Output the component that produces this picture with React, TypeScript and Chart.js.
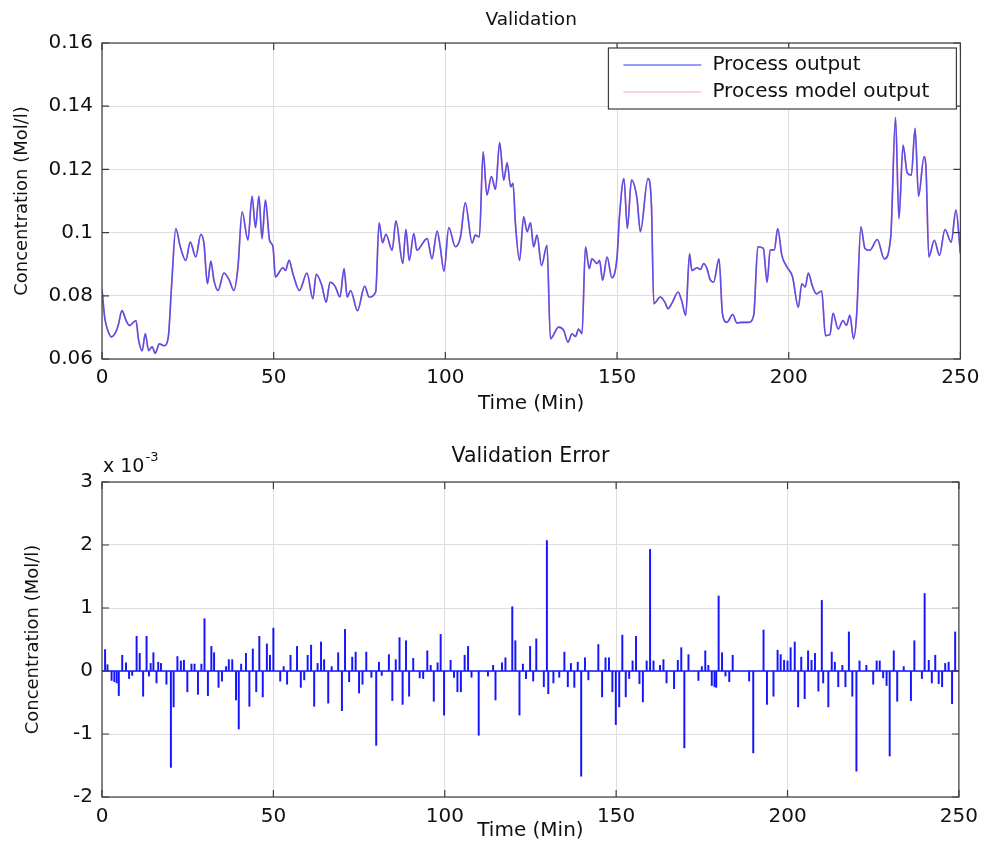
import React, { useEffect, useRef } from "react";
import { Chart, registerables } from "chart.js";

Chart.register(...registerables);

// ---------------- data ----------------
const processTime = [
  0, 0.8, 1.7, 2.7, 4.2, 4.8, 5.8, 7, 8, 9.9, 10.6, 11.7, 12.6, 13.6, 14.6, 15.5, 16.7, 18.1, 19.3, 20.3,
  21.5, 22.8, 24.4, 25.7, 27.3, 28.8, 29.7, 30.7, 31.7, 32.6, 33.8, 35.5, 37, 38.4, 39.6, 40.8, 42.5, 43.7,
  44.7, 45.7, 46.6, 47.6, 48.8, 49.8, 50.5, 52.7, 53.4, 54.5, 55.6, 57.5, 59.7, 61.4, 62.4, 64, 65.3, 66.4,
  67.9, 69.3, 70.5, 71.4, 72.4, 74.4, 76.5, 77.8, 79.7, 80.7, 81.7, 82.7, 84.5, 85.6, 87.6, 88.5, 89.5,
  90.8, 91.7, 94.7, 96.1, 97.6, 98.5, 99.6, 101, 102.9, 104.4, 105.8, 107.8, 108.7, 109.9, 111, 112.1,
  113.4, 114.6, 115.8, 117, 118, 119, 119.7, 120.4, 121.6, 122.8, 123.8, 124.8, 125.7, 126.7, 128, 129.6,
  130.6, 133, 134.5, 135.7, 136.9, 137.9, 138.8, 139.8, 140.8, 141.9, 142.7, 144.2, 144.9, 145.8, 147.1,
  148.5, 150, 150.7, 152, 153, 154.2, 155.8, 156.8, 159, 160, 160.7, 162.6, 163.9, 164.9, 166, 167.8,
  168.8, 170, 171.1, 171.8, 173.3, 174.3, 175.2, 176.2, 177.1, 178.1, 179.7, 180.7, 182, 183.7, 184.9,
  186.4, 188.3, 189.8, 191, 192.6, 193.7, 194.6, 195.8, 196.8, 198, 199.5, 201.1, 202.8, 203.8, 204.8,
  205.7, 206.9, 208.1, 209.6, 210.7, 212, 212.9, 214.4, 215.8, 216.8, 217.8, 218.9, 219.8, 221, 222.2,
  223.6, 225.8, 227.8, 229.7, 231.1, 232.1, 233.3, 234.5, 235.7, 236.8, 237.8, 239.4, 240, 240.8, 242.4,
  243.9, 245.5, 247.3, 248.7, 250,
];
const processOutput = [
  0.082, 0.073, 0.069, 0.067, 0.069, 0.071, 0.0753, 0.0722, 0.0706, 0.0722, 0.0664, 0.0626, 0.068, 0.0626,
  0.0639, 0.0618, 0.0648, 0.0642, 0.0669, 0.0838, 0.1013, 0.0955, 0.0912, 0.097, 0.0923, 0.0995, 0.0965,
  0.0838, 0.091, 0.0849, 0.0817, 0.0872, 0.0851, 0.0817, 0.0891, 0.1066, 0.0976, 0.1115, 0.1016, 0.1115,
  0.0981, 0.1103, 0.0976, 0.0955, 0.086, 0.0889, 0.088, 0.0912, 0.087, 0.0817, 0.0872, 0.0791, 0.0868,
  0.0833, 0.078, 0.0843, 0.083, 0.0796, 0.0886, 0.0796, 0.0817, 0.0753, 0.083, 0.0796, 0.0812, 0.1031,
  0.0968, 0.0995, 0.0944, 0.1037, 0.0902, 0.101, 0.0912, 0.0997, 0.0944, 0.0981, 0.0917, 0.1005, 0.0955,
  0.0878, 0.1016, 0.0955, 0.0986, 0.1094, 0.0967, 0.0992, 0.0986, 0.1256, 0.1119, 0.1177, 0.1137, 0.1285,
  0.1166, 0.1221, 0.1145, 0.1156, 0.1029, 0.0912, 0.105, 0.1003, 0.1031, 0.0955, 0.0992, 0.0896, 0.096,
  0.0664, 0.0701, 0.069, 0.0653, 0.068, 0.0671, 0.0695, 0.068, 0.0955, 0.0886, 0.0917, 0.0902, 0.0912,
  0.0849, 0.0923, 0.0857, 0.0923, 0.105, 0.1171, 0.1013, 0.1166, 0.1108, 0.1003, 0.1171, 0.1092, 0.0775,
  0.0796, 0.078, 0.0759, 0.0777, 0.0812, 0.0785, 0.0738, 0.0933, 0.088, 0.0889, 0.0883, 0.0902, 0.0886,
  0.0851, 0.0843, 0.0917, 0.0743, 0.0716, 0.0741, 0.0714, 0.0716, 0.0716, 0.0738, 0.0955, 0.095, 0.0843,
  0.0944, 0.0946, 0.1013, 0.0928, 0.0891, 0.086, 0.0764, 0.0838, 0.0828, 0.0872, 0.083, 0.0806, 0.0815,
  0.0674, 0.0677, 0.0745, 0.0695, 0.0722, 0.0706, 0.0738, 0.0664, 0.0743, 0.1018, 0.095, 0.0944, 0.0978,
  0.0917, 0.0986, 0.1365, 0.1044, 0.1277, 0.1189, 0.1182, 0.133, 0.1115, 0.124, 0.1198, 0.0923, 0.0976,
  0.0928, 0.101, 0.097, 0.1071, 0.0933,
];
// model output coincides with the process output at this scale
const modelOutput = processOutput;

// validation error, in units of 10^-3 Mol/l
const errorTime = [
  0.9, 1.6, 2.8, 3.6, 4.3, 4.9, 5.9, 7, 7.9, 8.8, 10.1, 11, 12, 13, 13.7, 14.2, 15, 15.9, 16.4, 17.2, 18.8,
  20.1, 20.9, 22, 23, 23.9, 24.9, 26.1, 27, 28, 29, 29.9, 30.9, 31.9, 32.7, 34, 35, 36.2, 37, 38, 39.1, 39.9,
  40.6, 42, 43, 44, 45, 45.9, 46.9, 48.1, 49, 50, 52, 53, 54, 55, 56.9, 58, 59, 60, 61, 61.9, 62.9, 63.9,
  64.8, 66, 67, 68.9, 70, 70.9, 72.1, 73, 74, 75, 76, 77.1, 78.6, 80, 80.8, 81.6, 83.7, 84.7, 85.7, 86.8,
  87.7, 88.7, 89.6, 90.8, 92.7, 93.7, 94.9, 95.9, 96.8, 97.9, 98.8, 99.8, 101.7, 102.7, 103.7, 104.7,
  105.8, 106.8, 107.8, 109.9, 112.6, 114.1, 114.8, 116.7, 117.7, 119.7, 120.6, 121.8, 122.8, 123.7, 124.9,
  125.8, 126.7, 128.9, 129.8, 130.2, 131.7, 133.4, 134.9, 135.9, 136.8, 137.8, 138.8, 139.8, 140.9, 141.9,
  144.8, 145.9, 146.9, 147.9, 148.9, 149.9, 150.9, 151.8, 152.8, 153.8, 154.8, 155.8, 156.8, 157.8, 158.9,
  159.9, 160.9, 162.8, 163.8, 164.7, 166.9, 168, 169, 169.9, 171.1, 174, 175, 176, 176.9, 177.9, 178.7,
  179.2, 179.9, 180.9, 181.9, 183, 184, 188.8, 190, 193, 194, 195.9, 197.1, 198, 199, 200, 200.9, 202.1,
  203.1, 204, 205, 206, 207, 208, 209, 210, 210.4, 211.9, 212.9, 213.8, 214.8, 216, 216.9, 217.9, 218.9,
  220.1, 221, 223, 225, 226, 226.9, 227.9, 228.9, 229.8, 231, 232, 233.9, 236, 237, 239.2, 240, 241.2,
  242.1, 243.1, 244.1, 245.1, 246, 247, 248, 248.9,
];
const errorValue = [
  0.34, 0.1, -0.15, -0.17, -0.19, -0.39, 0.25, 0.13, -0.12, -0.07, 0.55, 0.28, -0.4, 0.55, -0.08, 0.12,
  0.29, -0.19, 0.14, 0.12, -0.21, -1.53, -0.57, 0.23, 0.16, 0.17, -0.33, 0.11, 0.11, -0.37, 0.11, 0.83,
  -0.39, 0.39, 0.29, -0.26, -0.16, 0.07, 0.18, 0.18, -0.46, -0.92, 0.11, 0.28, -0.56, 0.35, -0.33, 0.55,
  -0.41, 0.43, 0.25, 0.68, -0.16, 0.07, -0.21, 0.25, 0.39, -0.26, -0.14, 0.25, 0.41, -0.56, 0.12, 0.46,
  0.18, -0.51, 0.07, 0.29, -0.63, 0.66, -0.17, 0.22, 0.3, -0.35, -0.21, 0.3, -0.1, -1.18, 0.14, -0.07,
  0.26, -0.47, 0.18, 0.53, -0.53, 0.48, -0.4, 0.2, -0.11, -0.12, 0.32, 0.09, -0.48, 0.13, 0.58, -0.7, 0.17,
  -0.1, -0.33, -0.33, 0.25, 0.39, -0.1, -1.02, -0.08, 0.09, -0.46, 0.13, 0.21, 1.02, 0.48, -0.7, 0.11,
  -0.12, 0.39, -0.16, 0.51, -0.25, 2.07, -0.36, -0.19, -0.1, 0.3, -0.25, 0.12, -0.26, 0.14, -1.67, 0.21,
  -0.14, 0.42, -0.41, 0.21, 0.21, -0.33, -0.85, -0.57, 0.57, -0.41, -0.12, 0.16, 0.55, -0.2, -0.49, 0.16,
  1.93, 0.16, 0.09, 0.18, -0.19, -0.28, 0.17, 0.37, -1.22, 0.26, -0.15, 0.07, 0.32, 0.09, -0.23, -0.25,
  -0.26, 1.19, 0.29, -0.08, -0.17, 0.25, -0.16, -1.3, 0.65, -0.53, -0.4, 0.33, 0.26, 0.17, 0.16, 0.37,
  0.46, -0.57, 0.22, -0.44, 0.32, 0.17, 0.28, -0.32, 1.12, -0.19, -0.57, 0.3, 0.14, -0.25, 0.09, -0.25,
  0.62, -0.4, -1.59, 0.16, 0.09, -0.21, 0.16, 0.16, -0.11, -0.23, -1.35, 0.32, -0.48, 0.07, -0.47, 0.48,
  -0.12, 1.23, 0.17, -0.19, 0.25, -0.2, -0.25, 0.12, 0.14, -0.52, 0.62,
];
const baselineTime = [0, 250];
const baselineValue = [0, 0];

const xTicks = [0, 50, 100, 150, 200, 250];
const topYTicks = [0.06, 0.08, 0.1, 0.12, 0.14, 0.16];
const bottomYTicks = [-2, -1, 0, 1, 2, 3];

const seriesLabels = ["Process output", "Process model output"];

// ---------------- styles ----------------
const FONT = '"DejaVu Sans", "Liberation Sans", sans-serif';
const TEXT = "#111111";
const GRID = "#dedede";
const FRAME = "#3c3c3c";
const LEGEND_COLORS = ["#7a7aff", "#ffc4cc"];

const framePlugin = {
  id: "matlabFrame",
  afterDatasetsDraw(chart: any) {
    const { ctx, chartArea: a, scales } = chart;
    ctx.save();
    ctx.strokeStyle = FRAME;
    ctx.lineWidth = 1.2;
    ctx.strokeRect(a.left, a.top, a.right - a.left, a.bottom - a.top);
    const len = 7;
    ctx.beginPath();
    scales.x.ticks.forEach((t: any) => {
      const px = scales.x.getPixelForValue(t.value);
      ctx.moveTo(px, a.bottom);
      ctx.lineTo(px, a.bottom - len);
      ctx.moveTo(px, a.top);
      ctx.lineTo(px, a.top + len);
    });
    scales.y.ticks.forEach((t: any) => {
      const py = scales.y.getPixelForValue(t.value);
      ctx.moveTo(a.left, py);
      ctx.lineTo(a.left + len, py);
      ctx.moveTo(a.right, py);
      ctx.lineTo(a.right - len, py);
    });
    ctx.stroke();
    ctx.restore();
  },
};

const legendPlugin = {
  id: "boxLegend",
  afterDraw(chart: any) {
    const { ctx, chartArea: a } = chart;
    const w = 348;
    const h = 61;
    const right = a.right - 4;
    const top = a.top + 5;
    const left = right - w;
    ctx.save();
    ctx.fillStyle = "#ffffff";
    ctx.fillRect(left, top, w, h);
    ctx.strokeStyle = FRAME;
    ctx.lineWidth = 1.2;
    ctx.strokeRect(left, top, w, h);
    chart.data.datasets.forEach((ds: any, i: number) => {
      const y = top + 17 + i * 27;
      ctx.strokeStyle = LEGEND_COLORS[i];
      ctx.lineWidth = 1.3;
      ctx.beginPath();
      ctx.moveTo(left + 15, y);
      ctx.lineTo(left + 93, y);
      ctx.stroke();
      ctx.fillStyle = TEXT;
      ctx.font = `20px ${FONT}`;
      ctx.textBaseline = "middle";
      ctx.textAlign = "left";
      ctx.fillText(ds.label, left + 104, y);
    });
    ctx.restore();
  },
};

const exponentPlugin = {
  id: "exponentLabel",
  afterDraw(chart: any) {
    const { ctx, chartArea: a } = chart;
    ctx.save();
    ctx.fillStyle = TEXT;
    ctx.textBaseline = "middle";
    ctx.textAlign = "left";
    ctx.font = `19px ${FONT}`;
    const base = "x 10";
    ctx.fillText(base, a.left + 1, a.top - 15);
    const w = ctx.measureText(base).width;
    ctx.font = `13px ${FONT}`;
    ctx.fillText("-3", a.left + 2 + w, a.top - 24);
    ctx.restore();
  },
};

function xScale(tickPad: number, height: number) {
  return {
    type: "linear",
    min: 0,
    max: 250,
    offset: false,
    afterBuildTicks: (s: any) => {
      s.ticks = xTicks.map((v) => ({ value: v }));
    },
    afterFit: (s: any) => {
      s.height = height;
    },
    ticks: {
      color: TEXT,
      font: { family: FONT, size: 20 },
      padding: tickPad,
      maxRotation: 0,
      autoSkip: false,
      callback: (v: any) => String(v),
    },
    grid: { color: GRID, lineWidth: 1, drawTicks: false, offset: false },
    border: { display: false },
    title: {
      display: true,
      text: "Time (Min)",
      color: TEXT,
      font: { family: FONT, size: 20 },
      padding: { top: 0, bottom: 11 },
    },
  };
}

function yScale(min: number, max: number, ticks: number[], titlePad: number, fmt: (v: number) => string) {
  return {
    type: "linear",
    min,
    max,
    afterBuildTicks: (s: any) => {
      s.ticks = ticks.map((v) => ({ value: v }));
    },
    afterFit: (s: any) => {
      s.width = 102;
    },
    ticks: {
      color: TEXT,
      font: { family: FONT, size: 20 },
      padding: 9,
      autoSkip: false,
      callback: (v: any) => fmt(Number(v)),
    },
    grid: { color: GRID, lineWidth: 1, drawTicks: false },
    border: { display: false },
    title: {
      display: true,
      text: "Concentration (Mol/l)",
      color: TEXT,
      font: { family: FONT, size: 18 },
      padding: { top: titlePad, bottom: 0 },
    },
  };
}

function useChart(ref: React.RefObject<HTMLCanvasElement>, makeConfig: () => any) {
  useEffect(() => {
    if (!ref.current) return;
    const chart = new Chart(ref.current, makeConfig());
    return () => chart.destroy();
  }, []);
}

export default function App() {
  const topRef = useRef<HTMLCanvasElement>(null);
  const bottomRef = useRef<HTMLCanvasElement>(null);

  useChart(topRef, () => ({
    type: "line",
    data: {
      datasets: [
        {
          label: seriesLabels[0],
          data: processTime.map((t, i) => ({ x: t, y: processOutput[i] })),
          borderColor: "#5a4ee8",
          borderWidth: 1.6,
          pointRadius: 0,
          cubicInterpolationMode: "monotone",
        },
        {
          label: seriesLabels[1],
          data: processTime.map((t, i) => ({ x: t, y: modelOutput[i] })),
          borderColor: "rgba(255,60,90,0.5)",
          borderWidth: 1.6,
          pointRadius: 0,
          cubicInterpolationMode: "monotone",
        },
      ],
    },
    options: {
      responsive: false,
      animation: false,
      devicePixelRatio: 1,
      layout: { padding: { left: 0, right: 24, top: 0, bottom: 0 } },
      plugins: {
        legend: { display: false },
        tooltip: { enabled: false },
        title: {
          display: true,
          fullSize: false,
          text: "Validation",
          color: TEXT,
          font: { family: FONT, size: 18.5, weight: "normal" },
          padding: { top: 9, bottom: 11.8 },
        },
      },
      scales: {
        x: xScale(6.5, 68),
        y: yScale(0.06, 0.16, topYTicks, 12, (v) => String(Math.round(v * 100) / 100)),
      },
    },
    plugins: [framePlugin, legendPlugin],
  }));

  useChart(bottomRef, () => ({
    type: "bar",
    data: {
      datasets: [
        {
          type: "bar",
          label: "Validation error",
          data: errorTime.map((t, i) => ({ x: t, y: errorValue[i] })),
          backgroundColor: "#1414ff",
          borderWidth: 0,
          barThickness: 1.3,
        },
        {
          type: "line",
          label: "Zero",
          data: baselineTime.map((t, i) => ({ x: t, y: baselineValue[i] })),
          borderColor: "#1414ff",
          borderWidth: 1.3,
          pointRadius: 0,
        },
      ],
    },
    options: {
      responsive: false,
      animation: false,
      devicePixelRatio: 1,
      layout: { padding: { left: 0, right: 24, top: 0, bottom: 0 } },
      plugins: {
        legend: { display: false },
        tooltip: { enabled: false },
        title: {
          display: true,
          fullSize: false,
          text: "Validation Error",
          color: TEXT,
          font: { family: FONT, size: 20.5, weight: "normal" },
          padding: { top: 17, bottom: 13.4 },
        },
      },
      scales: {
        x: xScale(8, 57),
        y: yScale(-2, 3, bottomYTicks, 23, (v) => String(v)),
      },
    },
    plugins: [framePlugin, exponentPlugin],
  }));

  return (
    <div style={{ position: "absolute", left: 0, top: 0, width: 986, height: 854, background: "#fff" }}>
      <canvas ref={topRef} width={986} height={427} style={{ display: "block" }} />
      <canvas ref={bottomRef} width={986} height={427} style={{ display: "block" }} />
    </div>
  );
}
